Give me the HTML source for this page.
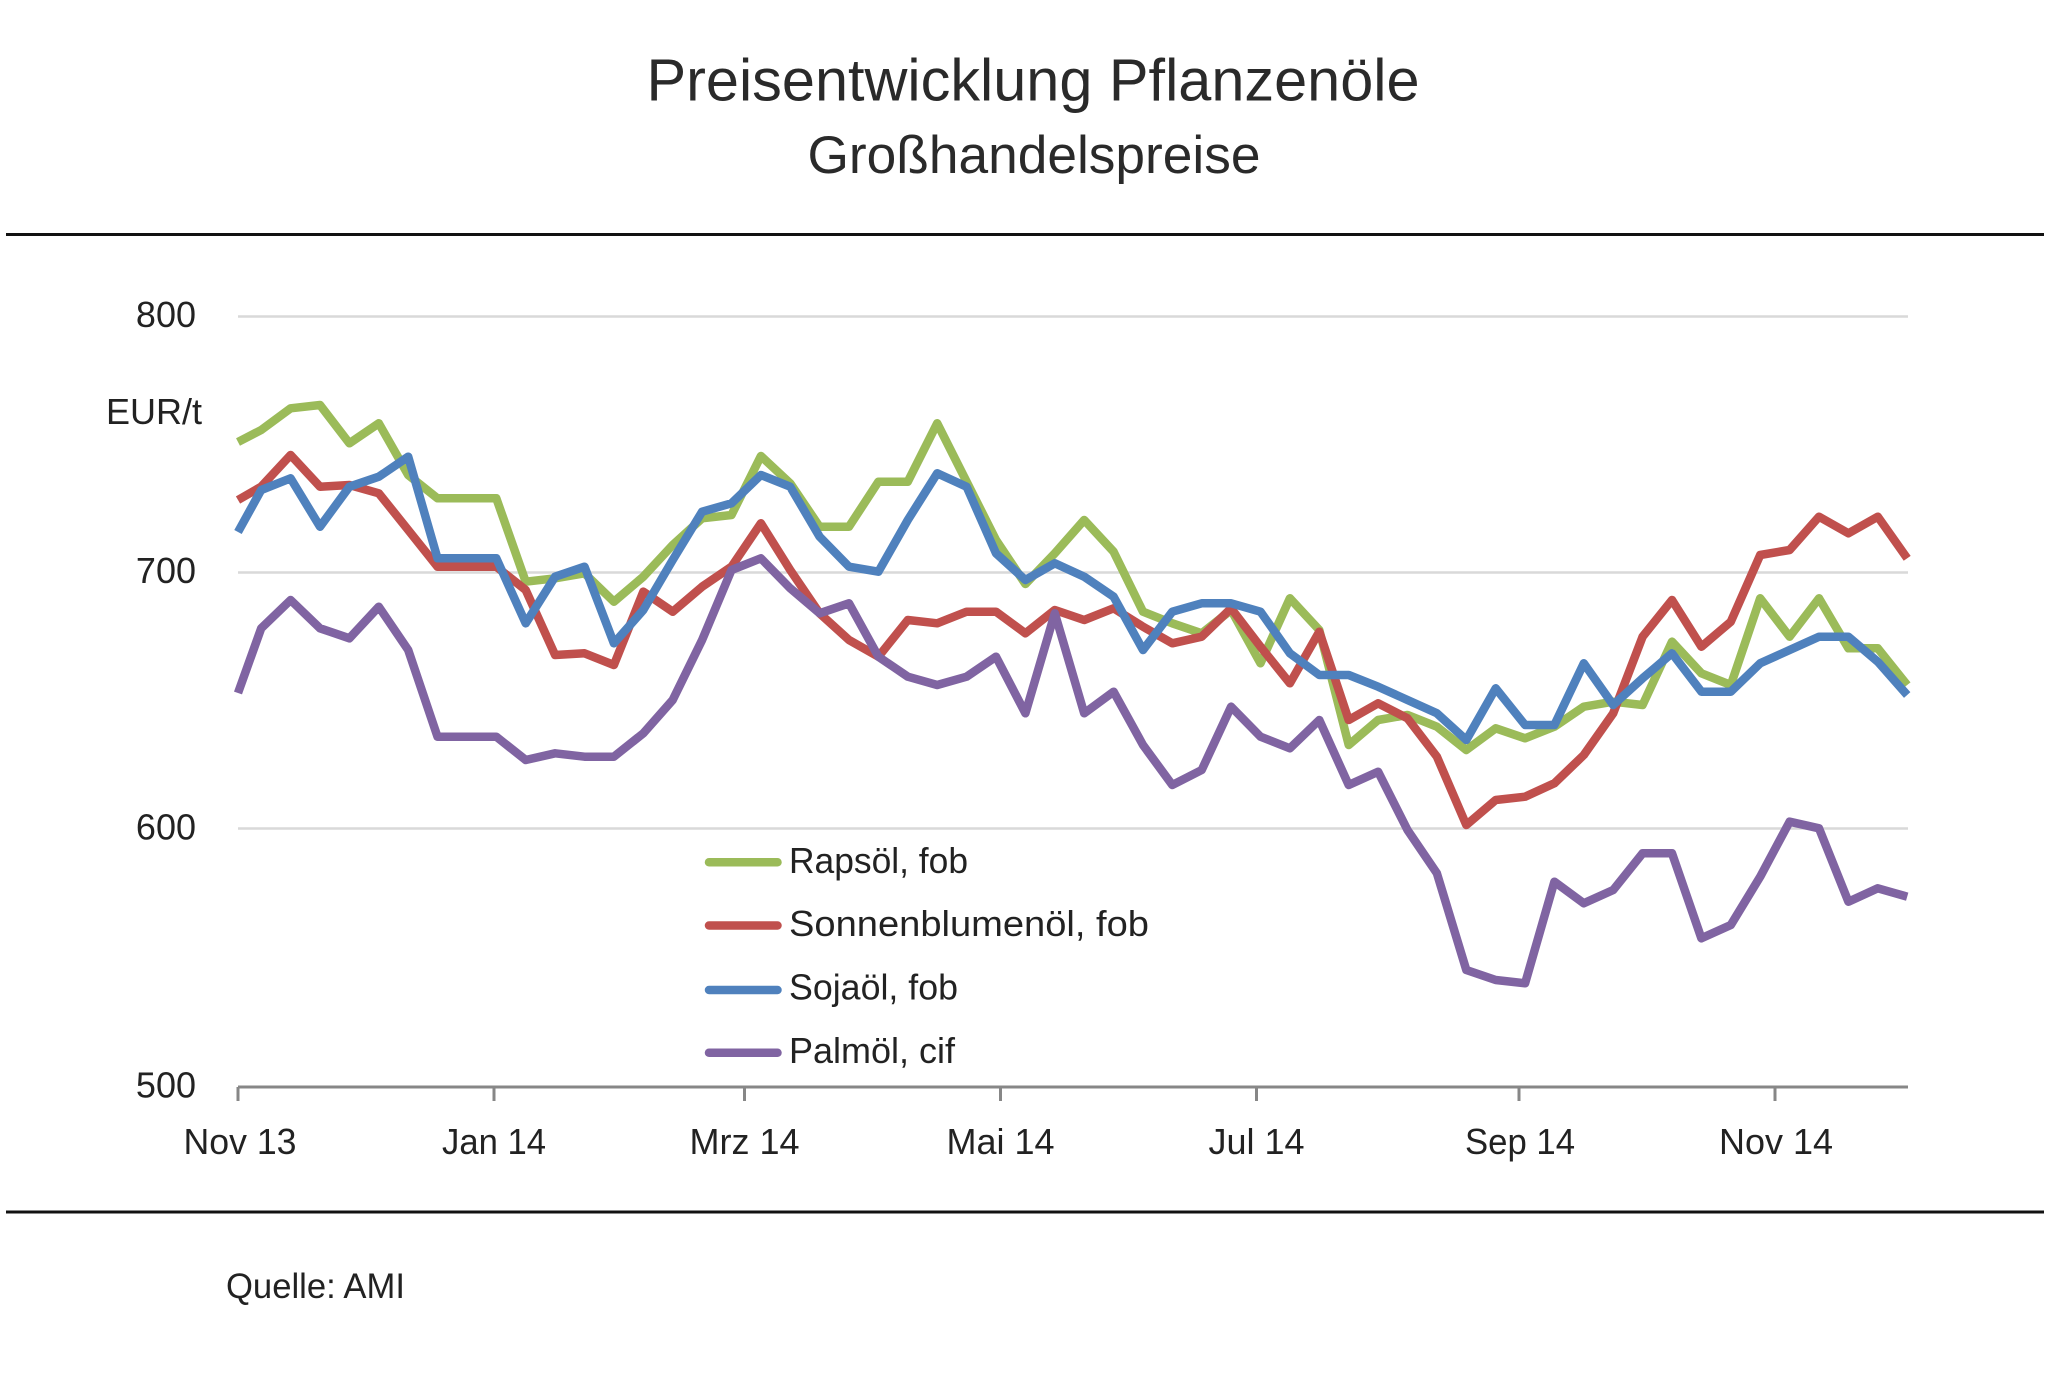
<!DOCTYPE html>
<html>
<head>
<meta charset="utf-8">
<style>
  html, body { margin: 0; padding: 0; background: #ffffff; }
  svg { display: block; }
  text { font-family: "Liberation Sans", "DejaVu Sans", sans-serif; fill: #222222; }
</style>
</head>
<body>
<svg width="2048" height="1399" viewBox="0 0 2048 1399" xmlns="http://www.w3.org/2000/svg">
  <rect x="0" y="0" width="2048" height="1399" fill="#ffffff"/>

  <!-- Titles -->
  <text x="1033" y="100.5" font-size="59" text-anchor="middle" textLength="773" lengthAdjust="spacingAndGlyphs" style="fill:#2a2a2a">Preisentwicklung Pflanzenöle</text>
  <text x="1034" y="173" font-size="53" text-anchor="middle" textLength="453" lengthAdjust="spacingAndGlyphs" style="fill:#2a2a2a">Großhandelspreise</text>

  <!-- Rules -->
  <line x1="6" y1="234.5" x2="2044" y2="234.5" stroke="#111" stroke-width="3"/>
  <line x1="6" y1="1212" x2="2044" y2="1212" stroke="#111" stroke-width="3"/>

  <!-- Gridlines -->
  <line x1="238" y1="316.5" x2="1908" y2="316.5" stroke="#d9d9d9" stroke-width="2.5"/>
  <line x1="238" y1="572.5" x2="1908" y2="572.5" stroke="#d9d9d9" stroke-width="2.5"/>
  <line x1="238" y1="828.5" x2="1908" y2="828.5" stroke="#d9d9d9" stroke-width="2.5"/>

  <!-- Axis -->
  <line x1="238" y1="1087" x2="1908" y2="1087" stroke="#878787" stroke-width="3"/>
  <g stroke="#878787" stroke-width="3">
    <line x1="238" y1="1087" x2="238" y2="1101"/>
    <line x1="494" y1="1087" x2="494" y2="1101"/>
    <line x1="744.5" y1="1087" x2="744.5" y2="1101"/>
    <line x1="1000.5" y1="1087" x2="1000.5" y2="1101"/>
    <line x1="1256.5" y1="1087" x2="1256.5" y2="1101"/>
    <line x1="1519" y1="1087" x2="1519" y2="1101"/>
    <line x1="1775" y1="1087" x2="1775" y2="1101"/>
  </g>

  <!-- Y labels -->
  <g font-size="36" text-anchor="end">
    <text x="196" y="327">800</text>
    <text x="196" y="583">700</text>
    <text x="196" y="839.5">600</text>
    <text x="196" y="1097.5">500</text>
  </g>
  <text x="106" y="424" font-size="36" textLength="96" lengthAdjust="spacingAndGlyphs">EUR/t</text>

  <!-- X labels -->
  <g font-size="36" text-anchor="middle">
    <text x="240" y="1154" textLength="113" lengthAdjust="spacingAndGlyphs">Nov 13</text>
    <text x="494" y="1154" textLength="104" lengthAdjust="spacingAndGlyphs">Jan 14</text>
    <text x="744.5" y="1154">Mrz 14</text>
    <text x="1000.5" y="1154">Mai 14</text>
    <text x="1256.5" y="1154">Jul 14</text>
    <text x="1520" y="1154" textLength="110" lengthAdjust="spacingAndGlyphs">Sep 14</text>
    <text x="1776" y="1154" textLength="114" lengthAdjust="spacingAndGlyphs">Nov 14</text>
  </g>

  <!-- Series -->
  <g fill="none" stroke-width="8.5" stroke-linejoin="round" stroke-linecap="butt">
    <polyline stroke="#9bbb59" points="238,442 261.2,430 290.6,408.3 320,405 349.4,443.3 378.8,423.3 408.2,475 437.5,498.3 466.9,498.3 496.3,498.3 525.7,581.7 555.1,578.3 584.5,573.3 613.9,601.7 643.3,576.7 672.7,545 702.1,518.3 731.5,515 760.9,456 790.2,483.3 819.6,526.7 849,526.7 878.4,481.7 907.8,481.7 937.2,423.3 966.6,481.7 996,540 1025.4,584 1054.8,553.3 1084.2,520 1113.6,551.7 1143,611.7 1172.3,623.3 1201.7,633.3 1231.1,610 1260.5,663.3 1289.9,598.3 1319.3,630 1348.7,745 1378.1,720 1407.5,715 1436.9,726.7 1466.3,750 1495.7,728.3 1525.1,738.3 1554.4,726.7 1583.8,706.7 1613.2,701.7 1642.6,705 1672,641.7 1701.4,673.3 1730.8,685 1760.2,598.3 1789.6,636.7 1819,598.3 1848.4,648.3 1877.8,648.3 1907.2,685"/>
    <polyline stroke="#c0504d" points="238,500 261.2,486.7 290.6,455 320,486.7 349.4,485 378.8,493.3 408.2,530 437.5,566.7 466.9,566.7 496.3,566.7 525.7,590 555.1,655 584.5,653.3 613.9,665 643.3,591.7 672.7,611.7 702.1,586.7 731.5,566.7 760.9,523.3 790.2,570 819.6,613.3 849,640 878.4,656.7 907.8,620 937.2,623.3 966.6,611.7 996,611.7 1025.4,633.3 1054.8,610 1084.2,620 1113.6,608.3 1143,626.7 1172.3,643.3 1201.7,636.7 1231.1,608.3 1260.5,646.7 1289.9,683.3 1319.3,631.7 1348.7,720 1378.1,703.3 1407.5,718.3 1436.9,756.7 1466.3,825 1495.7,800 1525.1,796.7 1554.4,783.3 1583.8,755 1613.2,713.3 1642.6,636.7 1672,600 1701.4,646.7 1730.8,621.7 1760.2,555 1789.6,550 1819,516.7 1848.4,533.3 1877.8,516.7 1907.2,558.3"/>
    <polyline stroke="#4f81bd" points="238,532 261.2,490 290.6,478.3 320,526.7 349.4,486.7 378.8,476.7 408.2,456.7 437.5,558.3 466.9,558.3 496.3,558.3 525.7,623.3 555.1,576.7 584.5,566.7 613.9,643.3 643.3,610 672.7,560 702.1,511.7 731.5,503.3 760.9,475 790.2,486.7 819.6,536.7 849,566.7 878.4,571.7 907.8,520 937.2,473.3 966.6,486.7 996,553.3 1025.4,580 1054.8,563.3 1084.2,576.7 1113.6,596.7 1143,650 1172.3,611.7 1201.7,603.3 1231.1,603.3 1260.5,611.7 1289.9,653.3 1319.3,675 1348.7,675 1378.1,686.7 1407.5,700 1436.9,713.3 1466.3,740 1495.7,688.3 1525.1,725 1554.4,725 1583.8,663.3 1613.2,705 1642.6,678.3 1672,653.3 1701.4,691.7 1730.8,691.7 1760.2,663.3 1789.6,650 1819,636.7 1848.4,636.7 1877.8,661.7 1907.2,695"/>
    <polyline stroke="#8064a2" points="238,693 261.2,628.3 290.6,600 320,628.3 349.4,638.3 378.8,606.7 408.2,650 437.5,736.7 466.9,736.7 496.3,736.7 525.7,760 555.1,753.3 584.5,756.7 613.9,756.7 643.3,733.3 672.7,700 702.1,640 731.5,570 760.9,558.3 790.2,588.3 819.6,613.3 849,603.3 878.4,656.7 907.8,676.7 937.2,685 966.6,676.7 996,656.7 1025.4,713.3 1054.8,613.3 1084.2,713.3 1113.6,691.7 1143,745 1172.3,785 1201.7,770 1231.1,706.7 1260.5,736.7 1289.9,748.3 1319.3,720 1348.7,785 1378.1,771.7 1407.5,830 1436.9,873.3 1466.3,970 1495.7,980 1525.1,983.3 1554.4,881.7 1583.8,903.3 1613.2,890 1642.6,853.3 1672,853.3 1701.4,938.3 1730.8,925 1760.2,876.7 1789.6,821.7 1819,828.3 1848.4,901.7 1877.8,888.3 1907.2,896.7"/>
  </g>

  <!-- Legend -->
  <g stroke-width="8.5" stroke-linecap="round">
    <line x1="709" y1="862.3" x2="777.5" y2="862.3" stroke="#9bbb59"/>
    <line x1="709" y1="925.5" x2="777.5" y2="925.5" stroke="#c0504d"/>
    <line x1="709" y1="990" x2="777.5" y2="990" stroke="#4f81bd"/>
    <line x1="709" y1="1052.7" x2="777.5" y2="1052.7" stroke="#8064a2"/>
  </g>
  <g font-size="36">
    <text x="789" y="873" textLength="179" lengthAdjust="spacingAndGlyphs">Rapsöl, fob</text>
    <text x="789" y="936" textLength="360" lengthAdjust="spacingAndGlyphs">Sonnenblumenöl, fob</text>
    <text x="789" y="999.5" textLength="169" lengthAdjust="spacingAndGlyphs">Sojaöl, fob</text>
    <text x="789" y="1063" textLength="166" lengthAdjust="spacingAndGlyphs">Palmöl, cif</text>
  </g>

  <!-- Source -->
  <text x="226" y="1298" font-size="35" textLength="179" lengthAdjust="spacingAndGlyphs">Quelle: AMI</text>
</svg>
</body>
</html>
